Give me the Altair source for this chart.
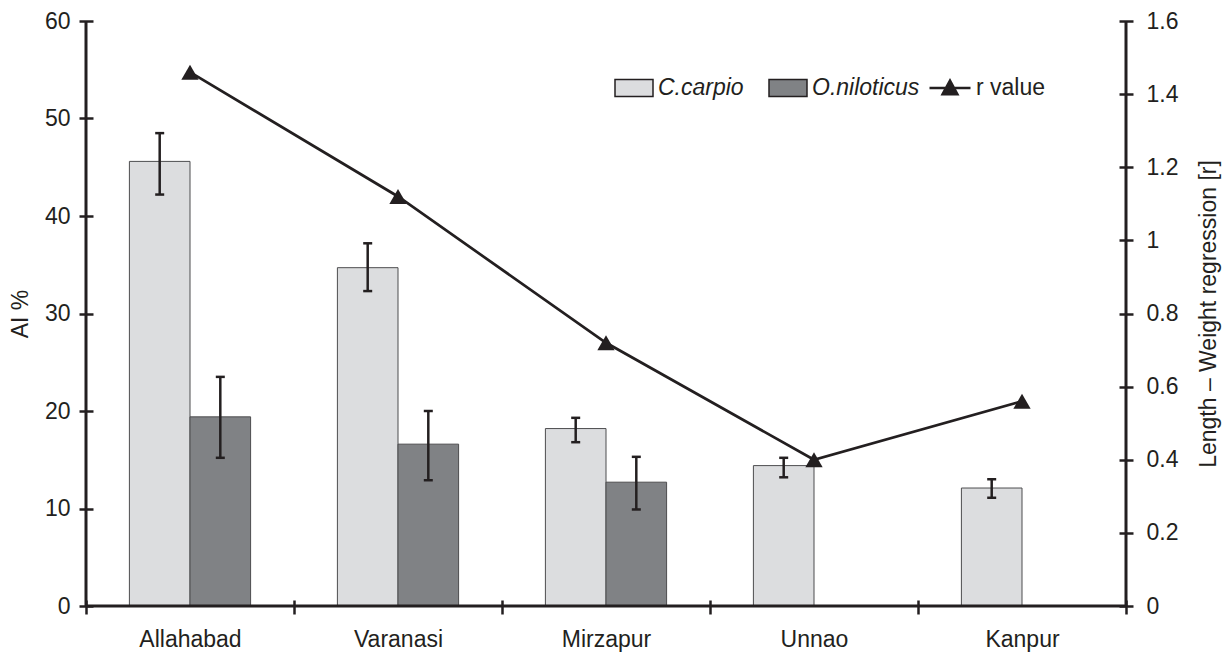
import altair as alt
import pandas as pd

# ---------------- data ----------------
sites = ["Allahabad", "Varanasi", "Mirzapur", "Unnao", "Kanpur"]
species = ["C.carpio", "O.niloticus"]
carpio_ai = [45.6, 34.7, 18.2, 14.4, 12.1]
carpio_lo = [42.2, 32.3, 16.8, 13.2, 11.1]
carpio_hi = [48.5, 37.2, 19.3, 15.2, 13.0]
nil_sites = ["Allahabad", "Varanasi", "Mirzapur"]
nil_ai = [19.4, 16.6, 12.7]
nil_lo = [15.2, 12.9, 9.9]
nil_hi = [23.5, 20.0, 15.3]
r_values = [1.46, 1.12, 0.72, 0.40, 0.56]
r_label = "r value"
left_ticks = [0, 10, 20, 30, 40, 50, 60]
right_ticks = [0, 0.2, 0.4, 0.6, 0.8, 1, 1.2, 1.4, 1.6]

bars_df = pd.DataFrame({
    "site": sites + nil_sites,
    "species": [species[0]] * len(sites) + [species[1]] * len(nil_sites),
    "value": carpio_ai + nil_ai,
    "lo": carpio_lo + nil_lo,
    "hi": carpio_hi + nil_hi,
})
r_df = pd.DataFrame({"site": sites, "r": r_values, "lbl": [r_label] * len(sites)})
one_df = pd.DataFrame({"k": [0]})

# ---------------- style ----------------
W, H = 1040, 585
INK = "#231f20"
FONT = "Liberation Sans"
FS = 23

x_scale = alt.Scale(paddingInner=0, paddingOuter=0)
x_axis = alt.Axis(tickBand="extent", offset=-6, tickSize=14, labelPadding=14,
                  labelAngle=0, domain=False, grid=False, tickWidth=2.5,
                  tickColor=INK, labelColor=INK, labelFont=FONT, labelFontSize=FS)


def X():
    return alt.X("site:N", sort=sites, title=None, scale=x_scale, axis=x_axis)


xoff = alt.XOffset("species:N", scale=alt.Scale(domain=species, paddingOuter=0.716, paddingInner=0))

left_scale = alt.Scale(domain=[0, 60], nice=False)
right_scale = alt.Scale(domain=[0, 1.6], nice=False)

left_axis = alt.Axis(values=left_ticks, offset=-7, tickSize=14, labelPadding=9,
                     domain=False, grid=False, tickWidth=2.5, tickColor=INK,
                     labelColor=INK, labelFont=FONT, labelFontSize=FS,
                     title="AI %", titleFont=FONT, titleFontSize=FS, titleFontWeight="normal",
                     titleColor=INK, titleAngle=270, titleX=-73, titleY=H / 2,
                     titleAlign="center", titleBaseline="middle")

right_axis = alt.Axis(orient="right", values=right_ticks, format="~g", offset=-7, tickSize=14,
                      labelPadding=13, domain=False, grid=False, tickWidth=2.5, tickColor=INK,
                      labelColor=INK, labelFont=FONT, labelFontSize=FS,
                      title="Length \u2013 Weight regression [r]", titleFont=FONT, titleFontSize=FS,
                      titleFontWeight="normal", titleColor=INK, titleAngle=270, titleX=89,
                      titleY=H / 2, titleAlign="center", titleBaseline="middle")

bar_legend = alt.Legend(title=None, orient="none", legendX=528, legendY=47, direction="horizontal",
                        columns=2, padding=0, columnPadding=22, labelOffset=4,
                        symbolType="M-1,-0.447L1,-0.447L1,0.447L-1,0.447Z", symbolSize=1444,
                        symbolStrokeColor=INK, symbolStrokeWidth=1.5,
                        labelFont=FONT, labelFontSize=FS, labelFontStyle="italic", labelColor=INK)

line_legend = alt.Legend(title=None, orient="none", legendX=842, legendY=45, padding=0,
                         labelOffset=4,
                         symbolType="M-1,0L1,0M-0.36,0.3L0,-0.36L0.36,0.3Z", symbolSize=1681,
                         symbolStrokeColor=INK, symbolFillColor=INK, symbolStrokeWidth=2.5,
                         labelFont=FONT, labelFontSize=FS, labelColor=INK)

# ---------------- left layer ----------------
bars = alt.Chart(bars_df).mark_bar(stroke="#4d4d4f", strokeWidth=1).encode(
    x=X(),
    xOffset=xoff,
    y=alt.Y("value:Q", scale=left_scale, axis=left_axis),
    color=alt.Color("species:N", scale=alt.Scale(domain=species, range=["#dcdddf", "#808285"]),
                    legend=bar_legend),
)

err_rule = alt.Chart(bars_df).mark_rule(color=INK, strokeWidth=2.5).encode(
    x=X(), xOffset=xoff,
    y=alt.Y("lo:Q", scale=left_scale, axis=left_axis), y2="hi:Q",
)
cap_lo = alt.Chart(bars_df).mark_tick(color=INK, thickness=2.5, size=9, opacity=1).encode(
    x=X(), xOffset=xoff, y=alt.Y("lo:Q", scale=left_scale, axis=left_axis),
)
cap_hi = alt.Chart(bars_df).mark_tick(color=INK, thickness=2.5, size=9, opacity=1).encode(
    x=X(), xOffset=xoff, y=alt.Y("hi:Q", scale=left_scale, axis=left_axis),
)

left_line = alt.Chart(one_df).mark_rule(color=INK, strokeWidth=3).encode(
    x=alt.value(0), y=alt.value(0), y2=alt.value(H))
right_line = alt.Chart(one_df).mark_rule(color=INK, strokeWidth=3).encode(
    x=alt.value(W), y=alt.value(0), y2=alt.value(H))
base_line = alt.Chart(one_df).mark_rule(color=INK, strokeWidth=3).encode(
    x=alt.value(0), x2=alt.value(W), y=alt.value(H))

left = alt.layer(bars, err_rule, cap_lo, cap_hi, base_line, left_line, right_line)

# ---------------- right layer ----------------
r_line = alt.Chart(r_df).mark_line(color=INK, strokeWidth=2.7).encode(
    x=X(), y=alt.Y("r:Q", scale=right_scale, axis=right_axis),
)
r_pts = alt.Chart(r_df).mark_point(filled=True, shape="triangle-up", size=300, opacity=1).encode(
    x=X(), y=alt.Y("r:Q", scale=right_scale, axis=right_axis),
    color=alt.Color("lbl:N", scale=alt.Scale(domain=[r_label], range=[INK]), legend=line_legend),
)
right = alt.layer(r_line, r_pts)

chart = alt.layer(left, right).resolve_scale(y="independent", color="independent").properties(
    width=W, height=H,
    autosize=alt.AutoSizeParams(type="none"),
    padding={"left": 78, "top": 13, "right": 96, "bottom": 50},
).configure(font=FONT).configure_view(stroke=None)

chart.save("out.html", embed_options={"renderer": "svg", "actions": False})
